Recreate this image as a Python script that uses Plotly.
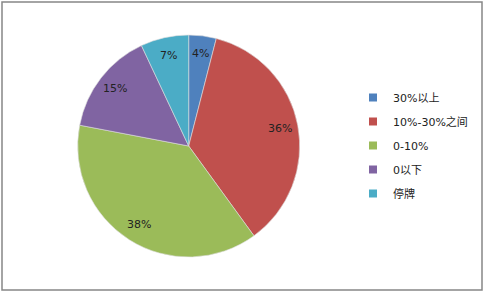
import math
import plotly.graph_objects as go

categories = ["30%以上", "10%-30%之间", "0-10%", "0以下", "停牌"]
values = [4, 36, 38, 15, 7]
colors = ["#4F81BD", "#C0504D", "#9BBB59", "#8064A2", "#4BACC6"]

W, H = 485, 293
cx_px, cy_px, R = 188.7, 146.0, 111.0
FONT = "DejaVu Sans, Noto Sans CJK SC, sans-serif"

fig = go.Figure()
fig.add_trace(go.Pie(
    labels=categories, values=values, sort=False, direction="clockwise", rotation=0,
    marker=dict(colors=colors, line=dict(color="#DDDDDD", width=0.6)),
    textinfo="none", hoverinfo="label+percent", showlegend=False,
    domain=dict(x=[(cx_px - R) / W, (cx_px + R) / W],
                y=[(H - cy_px - R) / H, (H - cy_px + R) / H]),
))

# legend entries (small square markers)
for i, (c, col) in enumerate(zip(categories, colors)):
    fig.add_trace(go.Scatter(
        x=[None], y=[None], mode="markers", name=c, legendgroup=f"g{i}",
        marker=dict(symbol="square", size=8, color=col),
    ))

# percentage labels
total = sum(values)
cum = 0
annotations = []
for v in values:
    mid = (cum + v / 2) / total * 2 * math.pi
    cum += v
    r = 0.84 * R
    x = (cx_px + r * math.sin(mid)) / W
    y = (H - cy_px + r * math.cos(mid)) / H
    annotations.append(dict(x=x, y=y, xref="paper", yref="paper", showarrow=False,
                            xanchor="center", yanchor="middle",
                            text=f"{round(v / total * 100)}%",
                            font=dict(family=FONT, size=11, color="#222222")))

fig.update_layout(
    width=W, height=H, margin=dict(l=0, r=0, t=0, b=0),
    paper_bgcolor="white", plot_bgcolor="white",
    xaxis=dict(visible=False), yaxis=dict(visible=False),
    annotations=annotations,
    legend=dict(x=353 / W, y=1 - 83 / H, xanchor="left", yanchor="top",
                font=dict(family=FONT, size=11, color="#222222"),
                tracegroupgap=5, bgcolor="rgba(0,0,0,0)"),
    shapes=[dict(type="rect", xref="paper", yref="paper",
                 x0=2 / W, x1=482 / W, y0=3 / H, y1=1 - 2 / H,
                 line=dict(color="#868686", width=1.5))],
)

fig.write_html("out.html")
